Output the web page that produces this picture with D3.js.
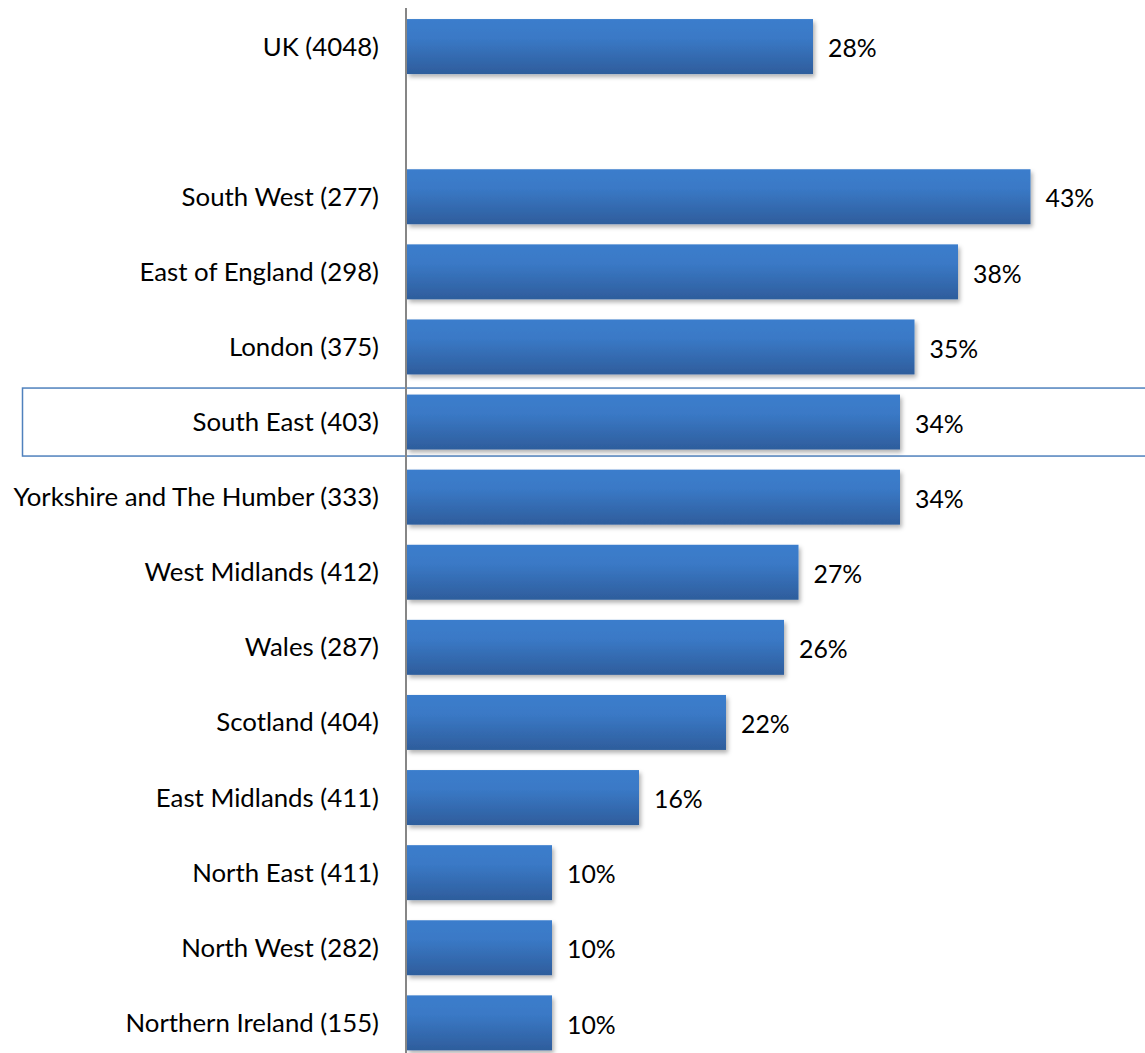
<!DOCTYPE html>
<html><head><meta charset="utf-8">
<script src="https://cdn.jsdelivr.net/npm/d3@7"></script>
<style>body{margin:0;background:#fff;} svg{display:block;}</style>
</head><body>
<script>
const categories = ["UK (4048)", "", "South West (277)", "East of England (298)", "London (375)", "South East (403)", "Yorkshire and The Humber (333)", "West Midlands (412)", "Wales (287)", "Scotland (404)", "East Midlands (411)", "North East (411)", "North West (282)", "Northern Ireland (155)"];
const values = [28, null, 43, 38, 35, 34, 34, 27, 26, 22, 16, 10, 10, 10];
const valueLabels = ["28%", "", "43%", "38%", "35%", "34%", "34%", "27%", "26%", "22%", "16%", "10%", "10%", "10%"];
const highlighted = ["South East (403)"];

const W = 1145, H = 1053;
const svg = d3.select("body").append("svg").attr("width", W).attr("height", H);
const defs = svg.append("defs");
const grad = defs.append("linearGradient").attr("id", "barGrad").attr("x1", 0).attr("y1", 0).attr("x2", 0).attr("y2", 1);
grad.append("stop").attr("offset", "0%").attr("stop-color", "#3a7dcc");
grad.append("stop").attr("offset", "35%").attr("stop-color", "#3a79c6");
grad.append("stop").attr("offset", "100%").attr("stop-color", "#2e5d9c");
const shadow = defs.append("filter").attr("id", "shadow").attr("x", "-5%").attr("y", "-20%").attr("width", "115%").attr("height", "150%");
shadow.append("feDropShadow").attr("dx", 2).attr("dy", 3).attr("stdDeviation", 2).attr("flood-color", "#000").attr("flood-opacity", 0.3);

const x0 = 407;
const x = d3.scaleLinear().domain([0, 43]).range([x0, x0 + 43 * 14.5]);
const y = d3.scaleBand().domain(categories.map((c, i) => i)).range([9, 9 + 14 * 75.1]).paddingInner(0.268).paddingOuter(0.134);

// highlight box
categories.forEach((c, i) => {
  if (highlighted.includes(c)) {
    svg.append("rect").attr("x", 22.5).attr("y", y(i) + y.bandwidth() / 2 - 34).attr("width", W).attr("height", 68)
      .attr("fill", "none").attr("stroke", "#4f81bd").attr("stroke-width", 1.5);
  }
});

const data = categories.map((c, i) => ({c, i, v: values[i], l: valueLabels[i]}));

svg.selectAll("rect.bar").data(data.filter(d => d.v != null)).join("rect")
  .attr("class", "bar")
  .attr("x", x(0)).attr("y", d => y(d.i))
  .attr("width", d => x(d.v) - x(0)).attr("height", y.bandwidth())
  .attr("fill", "url(#barGrad)").attr("filter", "url(#shadow)");

const font = "Lato, 'Open Sans', sans-serif";
svg.selectAll("text.cat").data(data.filter(d => d.c !== "")).join("text")
  .attr("class", "cat")
  .attr("x", 379).attr("y", d => y(d.i) + y.bandwidth() / 2)
  .attr("dy", "0.35em").attr("text-anchor", "end")
  .attr("font-family", font).attr("font-size", 25.8).attr("fill", "#000")
  .text(d => d.c);

svg.selectAll("text.val").data(data.filter(d => d.v != null)).join("text")
  .attr("class", "val")
  .attr("x", d => x(d.v) + 15).attr("y", d => y(d.i) + y.bandwidth() / 2 + 2)
  .attr("dy", "0.35em")
  .attr("font-family", font).attr("font-size", 24.8).attr("fill", "#000")
  .text(d => d.l);

// axis line
svg.append("line").attr("x1", 406).attr("x2", 406).attr("y1", 8).attr("y2", H)
  .attr("stroke", "#868686").attr("stroke-width", 2);
</script>
</body></html>
